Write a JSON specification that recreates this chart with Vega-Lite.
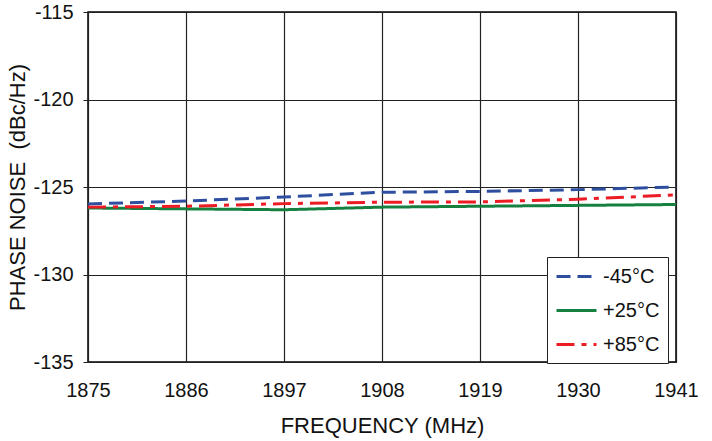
{
  "$schema": "https://vega.github.io/schema/vega-lite/v6.json",
  "width": 588,
  "height": 350,
  "autosize": {"type": "none"},
  "padding": {"left": 88, "top": 12, "right": 36, "bottom": 79},
  "background": "white",
  "config": {
    "font": "Liberation Sans",
    "view": {"stroke": "black", "strokeWidth": 1.5},
    "axis": {
      "labelFont": "Liberation Sans",
      "titleFont": "Liberation Sans",
      "labelFontSize": 20,
      "titleFontSize": 22,
      "titleFontWeight": "normal",
      "labelColor": "#111",
      "titleColor": "#111",
      "gridColor": "#222",
      "gridOpacity": 1,
      "gridWidth": 1.2,
      "domain": false,
      "tickColor": "#222",
      "labelFlush": false
    }
  },
  "data": {
    "values": [
      {"f": 1875, "s": "-45°C", "v": -125.97},
      {"f": 1886, "s": "-45°C", "v": -125.8},
      {"f": 1897, "s": "-45°C", "v": -125.57},
      {"f": 1908, "s": "-45°C", "v": -125.3},
      {"f": 1919, "s": "-45°C", "v": -125.25},
      {"f": 1930, "s": "-45°C", "v": -125.15},
      {"f": 1941, "s": "-45°C", "v": -125.0},
      {"f": 1875, "s": "+25°C", "v": -126.2},
      {"f": 1886, "s": "+25°C", "v": -126.25},
      {"f": 1897, "s": "+25°C", "v": -126.3},
      {"f": 1908, "s": "+25°C", "v": -126.15},
      {"f": 1919, "s": "+25°C", "v": -126.1},
      {"f": 1930, "s": "+25°C", "v": -126.05},
      {"f": 1941, "s": "+25°C", "v": -126.0},
      {"f": 1875, "s": "+85°C", "v": -126.15},
      {"f": 1886, "s": "+85°C", "v": -126.1},
      {"f": 1897, "s": "+85°C", "v": -125.95},
      {"f": 1908, "s": "+85°C", "v": -125.87},
      {"f": 1919, "s": "+85°C", "v": -125.85},
      {"f": 1930, "s": "+85°C", "v": -125.7},
      {"f": 1941, "s": "+85°C", "v": -125.45}
    ]
  },
  "mark": {"type": "line", "strokeWidth": 3},
  "encoding": {
    "x": {
      "field": "f", "type": "quantitative",
      "scale": {"domain": [1875, 1941], "nice": false, "zero": false},
      "axis": {"values": [1875, 1886, 1897, 1908, 1919, 1930, 1941], "title": "FREQUENCY (MHz)", "ticks": false, "labelPadding": 18, "titlePadding": 15, "format": "d"}
    },
    "y": {
      "field": "v", "type": "quantitative",
      "scale": {"domain": [-135, -115], "nice": false, "zero": false},
      "axis": {"values": [-135, -130, -125, -120, -115], "labelExpr": "'' + datum.value", "title": "PHASE NOISE\u00a0 (dBc/Hz)", "tickSize": 5, "labelPadding": 10, "titlePadding": 3}
    },
    "color": {
      "field": "s", "type": "nominal",
      "scale": {"domain": ["-45°C", "+25°C", "+85°C"], "range": ["#2E4FA0", "#168040", "#EC1C24"]},
      "legend": {
        "title": null, "orient": "none", "legendX": 459, "legendY": 245,
        "strokeColor": "#222", "fillColor": "white", "padding": 8,
        "labelFontSize": 20, "labelFont": "Liberation Sans", "labelColor": "#111",
        "symbolType": "M-1,0H3", "symbolSize": 400, "symbolStrokeWidth": 3,
        "rowPadding": 12, "labelOffset": 25
      }
    },
    "strokeDash": {
      "field": "s", "type": "nominal",
      "scale": {"domain": ["-45°C", "+25°C", "+85°C"], "range": [[14, 7], [1, 0], [18, 7, 5, 7]]},
      "legend": null
    }
  }
}
